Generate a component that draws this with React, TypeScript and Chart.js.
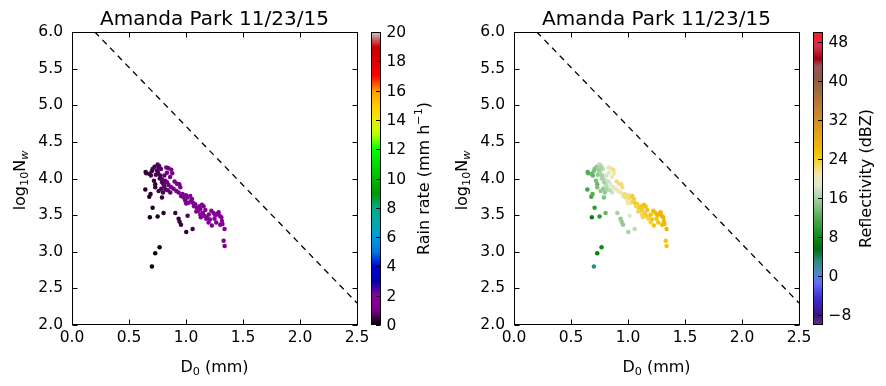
import React, { useEffect, useRef } from 'react';
import { Chart, registerables } from 'chart.js';

Chart.register(...registerables);

const TITLE = 'Amanda Park 11/23/15';

const D0 = [
  0.646, 0.651, 0.692, 0.707, 0.724, 0.751, 0.765, 0.78, 0.745, 0.736,
  0.719, 0.73, 0.774, 0.789, 0.803, 0.818, 0.827, 0.847, 0.871, 0.879,
  0.833, 0.81, 0.833, 0.847, 0.783, 0.798, 0.789, 0.862, 0.891, 0.915,
  0.941, 0.95, 0.935, 0.956, 0.979, 0.993, 1.014, 1.037, 1.052, 1.023,
  1.002, 1.043, 1.081, 1.096, 1.11, 1.119, 1.14, 1.154, 1.125, 1.148,
  1.16, 1.184, 1.198, 1.178, 1.222, 1.242, 1.257, 1.277, 1.295, 1.286,
  1.315, 1.3, 1.265, 1.227, 1.338, 1.33, 1.339, 1.125, 0.643, 0.678,
  0.689, 0.707, 0.683, 0.751, 0.803, 0.701, 0.73, 0.768, 0.906, 0.935,
  0.944, 0.956, 1.002, 1.058, 1.014, 0.76, 0.755, 0.77, 0.79, 0.81,
  0.82, 0.84, 0.87, 0.86, 0.7, 0.68, 0.97, 1.0, 1.06, 1.07,
  1.09, 1.13, 1.2, 1.25, 1.31, 1.32, 1.21, 1.17, 0.92, 0.9,
  0.73, 0.76,
];

const LOGNW = [
  4.09, 4.07, 4.04, 4.13, 4.16, 4.19, 4.17, 4.13, 4.11, 4.05,
  3.97, 3.92, 4.04, 3.99, 3.92, 3.97, 4.15, 4.14, 4.12, 4.07,
  4.08, 4.04, 3.95, 3.91, 3.86, 3.81, 3.74, 3.81, 3.86, 3.83,
  3.92, 3.88, 3.81, 3.76, 3.74, 3.7, 3.74, 3.76, 3.72, 3.67,
  3.66, 3.69, 3.65, 3.6, 3.56, 3.62, 3.64, 3.62, 3.51, 3.53,
  3.49, 3.47, 3.4, 3.45, 3.56, 3.53, 3.5, 3.52, 3.49, 3.54,
  3.42, 3.37, 3.4, 3.36, 3.31, 3.15, 3.08, 3.58, 3.85, 3.75,
  3.79, 3.6, 3.47, 3.48, 3.53, 2.8, 2.98, 3.06, 3.53, 3.45,
  3.41, 3.37, 3.27, 3.31, 3.49, 4.15, 4.08, 4.0, 3.95, 3.89,
  3.85, 3.84, 3.88, 4.02, 4.1, 4.06, 3.79, 3.77, 3.67, 3.62,
  3.55, 3.47, 3.51, 3.45, 3.47, 3.38, 3.44, 3.57, 3.93, 3.96,
  3.88, 3.83,
];

// rain rate (mm h-1)
const RAIN = [
  0.45, 0.45, 0.5, 0.55, 0.6, 0.7, 0.7, 0.75, 0.6, 0.55,
  0.5, 0.4, 0.7, 0.75, 0.8, 0.85, 1.0, 1.05, 1.1, 1.05,
  0.95, 0.85, 0.9, 0.95, 0.6, 0.6, 0.35, 0.85, 1.0, 1.05,
  1.2, 1.2, 1.1, 1.15, 1.2, 1.2, 1.35, 1.4, 1.4, 1.3,
  1.2, 1.35, 1.5, 1.5, 1.5, 1.6, 1.7, 1.7, 1.45, 1.55,
  1.5, 1.6, 1.5, 1.5, 1.9, 1.9, 1.9, 2.0, 2.0, 2.1,
  1.9, 1.8, 1.75, 1.6, 1.8, 1.5, 1.5, 1.55, 0.3, 0.3,
  0.35, 0.25, 0.15, 0.25, 0.35, 0.04, 0.1, 0.12, 0.5, 0.45,
  0.45, 0.45, 0.45, 0.55, 0.7, 0.65, 0.6, 0.65, 0.7, 0.75,
  0.7, 0.8, 0.95, 1.0, 0.5, 0.5, 1.25, 1.3, 1.45, 1.4,
  1.35, 1.4, 1.8, 1.8, 2.0, 1.9, 1.7, 1.75, 1.15, 1.1,
  0.45, 0.5,
];

// reflectivity (dBZ)
const REFL = [
  12, 12, 13, 14, 15, 17, 17, 17, 15, 15,
  14, 13, 16, 17, 17, 18, 20, 21, 22, 21,
  19, 18, 18, 19, 15, 15, 14, 18, 20, 21,
  22, 22, 21, 21, 22, 21, 23, 24, 24, 22,
  21, 23, 24, 24, 24, 25, 25, 25, 23, 24,
  24, 24, 23, 23, 26, 26, 26, 27, 27, 27,
  26, 26, 25, 25, 26, 25, 25, 24, 11, 11,
  12, 10, 7, 10, 13, 3, 7, 8, 16, 15,
  15, 15, 16, 17, 19, 16, 16, 16, 16, 17,
  16, 17, 19, 20, 14, 13, 22, 22, 24, 23,
  23, 23, 25, 25, 27, 26, 25, 25, 22, 22,
  14, 15,
];

const X_TICKS = [0, 0.5, 1.0, 1.5, 2.0, 2.5];
const Y_TICKS = [2.0, 2.5, 3.0, 3.5, 4.0, 4.5, 5.0, 5.5, 6.0];
const LINE_X = [0.2, 2.5];
const LINE_Y = [6.0, 2.3];
const RAIN_TICKS = [0, 2, 4, 6, 8, 10, 12, 14, 16, 18, 20];
const REFL_TICKS = [-8, 0, 8, 16, 24, 32, 40, 48];

const FONT = '"DejaVu Sans", "Liberation Sans", sans-serif';

// nipy_spectral colormap definition
const NIPY_R = [0, 0.4667, 0.5333, 0, 0, 0, 0, 0, 0, 0, 0, 0, 0, 0.7333, 0.9333, 1, 1, 1, 0.8667, 0.8, 0.8];
const NIPY_G = [0, 0, 0, 0, 0, 0.4667, 0.6, 0.6667, 0.6667, 0.6, 0.7333, 0.8667, 1, 1, 0.9333, 0.8, 0.6, 0, 0, 0, 0.8];
const NIPY_B = [0, 0.5333, 0.6, 0.6667, 0.8667, 0.8667, 0.8667, 0.6667, 0.5333, 0, 0, 0, 0, 0, 0, 0, 0, 0, 0, 0, 0.8];

function nipy(t: number): string {
  const tt = Math.max(0, Math.min(1, t)) * 20;
  const i = Math.min(19, Math.floor(tt));
  const f = tt - i;
  const c = (a: number[]) => Math.round(255 * (a[i] + (a[i + 1] - a[i]) * f));
  return `rgb(${c(NIPY_R)},${c(NIPY_G)},${c(NIPY_B)})`;
}

// reflectivity colormap stops
const REFL_STOPS: [number, string][] = [
  [-10, '#6c2c8c'],
  [-8, '#38147c'],
  [-4.5, '#3c2cd2'],
  [-1.5, '#6468f8'],
  [0.5, '#5088c8'],
  [3, '#2e8a88'],
  [5.5, '#006c10'],
  [8.5, '#12901a'],
  [12, '#52ac52'],
  [15.5, '#9cce9c'],
  [18.5, '#dae8d2'],
  [21, '#f2e6a8'],
  [23.5, '#f2d23c'],
  [25.5, '#f0c000'],
  [30, '#e09a20'],
  [35.5, '#b87838'],
  [40.5, '#8c5a40'],
  [43, '#a05058'],
  [44.5, '#a00010'],
  [47, '#d03050'],
  [50, '#ff1a1a'],
];

function hexToRgb(h: string): number[] {
  return [parseInt(h.slice(1, 3), 16), parseInt(h.slice(3, 5), 16), parseInt(h.slice(5, 7), 16)];
}

function reflColor(v: number): string {
  const s = REFL_STOPS;
  if (v <= s[0][0]) return s[0][1];
  if (v >= s[s.length - 1][0]) return s[s.length - 1][1];
  for (let k = 0; k < s.length - 1; k++) {
    if (v >= s[k][0] && v <= s[k + 1][0]) {
      const f = (v - s[k][0]) / (s[k + 1][0] - s[k][0]);
      const a = hexToRgb(s[k][1]);
      const b = hexToRgb(s[k + 1][1]);
      const m = a.map((x, j) => Math.round(x + (b[j] - x) * f));
      return `rgb(${m[0]},${m[1]},${m[2]})`;
    }
  }
  return '#000';
}

type Seg = { t: string; s?: 'sub' | 'sup'; i?: boolean };

function drawRich(ctx: CanvasRenderingContext2D, segs: Seg[], px: number, py: number, size: number, rotated: boolean) {
  ctx.save();
  ctx.translate(px, py);
  if (rotated) ctx.rotate(-Math.PI / 2);
  const fontFor = (sg: Seg) => `${sg.i ? 'italic ' : ''}${sg.s ? size * 0.7 : size}px ${FONT}`;
  const widths = segs.map((sg) => {
    ctx.font = fontFor(sg);
    return ctx.measureText(sg.t).width;
  });
  const total = widths.reduce((a, b) => a + b, 0);
  let x = -total / 2;
  ctx.textAlign = 'left';
  ctx.textBaseline = 'alphabetic';
  ctx.fillStyle = '#000';
  segs.forEach((sg, k) => {
    ctx.font = fontFor(sg);
    const dy = sg.s === 'sub' ? size * 0.2 : sg.s === 'sup' ? -size * 0.42 : 0;
    ctx.fillText(sg.t, x, dy);
    x += widths[k];
  });
  ctx.restore();
}

const decorPlugin = {
  id: 'decor',
  afterDraw(chart: any, _args: any, opts: any) {
    const ctx: CanvasRenderingContext2D = chart.ctx;
    const { left, right, top, bottom } = chart.chartArea;
    const xs = chart.scales.x;
    const ys = chart.scales.y;
    const cb = chart.scales.cb;
    ctx.save();
    // frame
    ctx.strokeStyle = '#000';
    ctx.lineWidth = 1;
    const L = Math.floor(left) + 0.5;
    const R = Math.floor(right) + 0.5;
    const T = Math.floor(top) + 0.5;
    const B = Math.floor(bottom) - 0.5;
    ctx.strokeRect(L, T, R - L, B - T);
    // inward ticks
    const tl = 5;
    ctx.beginPath();
    X_TICKS.forEach((v) => {
      const p = Math.round(xs.getPixelForValue(v)) + 0.5;
      ctx.moveTo(p, B);
      ctx.lineTo(p, B - tl);
      ctx.moveTo(p, T);
      ctx.lineTo(p, T + tl);
    });
    Y_TICKS.forEach((v) => {
      const p = Math.round(ys.getPixelForValue(v)) + 0.5;
      ctx.moveTo(L, p);
      ctx.lineTo(L + tl, p);
      ctx.moveTo(R, p);
      ctx.lineTo(R - tl, p);
    });
    ctx.stroke();

    // title
    ctx.fillStyle = '#000';
    ctx.font = `20px ${FONT}`;
    ctx.textAlign = 'center';
    ctx.textBaseline = 'alphabetic';
    ctx.fillText(TITLE, (left + right) / 2, 25);

    // axis labels
    drawRich(ctx, [{ t: 'D' }, { t: '0', s: 'sub' }, { t: ' (mm)' }], (left + right) / 2, 372, 16, false);
    drawRich(ctx, [{ t: 'log' }, { t: '10', s: 'sub' }, { t: 'N' }, { t: 'w', s: 'sub', i: true }], 25, (top + bottom) / 2 + 2, 16, true);

    // colorbar
    const x0 = 371;
    const x1 = 381;
    const cTop = Math.round(cb.getPixelForValue(cb.max));
    const cBot = Math.round(cb.getPixelForValue(cb.min));
    for (let py = cTop; py < cBot; py++) {
      const v = cb.getValueForPixel(py + 0.5);
      ctx.fillStyle = opts.colorFn(v);
      ctx.fillRect(x0, py, x1 - x0, 1);
    }
    ctx.strokeStyle = '#000';
    ctx.strokeRect(x0 + 0.5, cTop + 0.5, x1 - x0 - 1, cBot - cTop - 1);
    ctx.beginPath();
    (opts.ticks as number[]).forEach((v) => {
      const p = Math.round(cb.getPixelForValue(v)) + 0.5;
      ctx.moveTo(x1 - 0.5, p);
      ctx.lineTo(x1 - 5, p);
    });
    ctx.stroke();
    ctx.fillStyle = '#000';
    ctx.font = `15.5px ${FONT}`;
    ctx.textAlign = 'left';
    ctx.textBaseline = 'middle';
    (opts.ticks as number[]).forEach((v) => {
      const p = cb.getPixelForValue(v);
      const label = v < 0 ? '\u2212' + Math.abs(v) : String(v);
      ctx.fillText(label, x1 + 5.5, p + 1);
    });
    drawRich(ctx, opts.label as Seg[], 429, (cTop + cBot) / 2, 16, true);
    ctx.restore();
  },
};

function makeConfig(kind: 'rain' | 'refl'): any {
  const values = kind === 'rain' ? RAIN : REFL;
  const colorFn = kind === 'rain' ? (v: number) => nipy(v / 20) : (v: number) => reflColor(v);
  const cbMin = kind === 'rain' ? 0 : -10;
  const cbMax = kind === 'rain' ? 20 : 50;
  const label: Seg[] =
    kind === 'rain'
      ? [{ t: 'Rain rate (mm h' }, { t: '\u22121', s: 'sup' }, { t: ')' }]
      : [{ t: 'Reflectivity (dBZ)' }];
  const tickFont = { family: FONT, size: 15.5, lineHeight: 1.2 };
  return {
    type: 'scatter',
    data: {
      datasets: [
        {
          type: 'line',
          data: LINE_X.map((x, i) => ({ x, y: LINE_Y[i] })),
          borderColor: '#000',
          borderWidth: 1.3,
          borderDash: [6, 5],
          pointRadius: 0,
          fill: false,
          order: 2,
        },
        {
          data: D0.map((x, i) => ({ x, y: LOGNW[i] })),
          backgroundColor: values.map((v) => colorFn(v)),
          pointRadius: 2.25,
          pointHoverRadius: 2.25,
          borderWidth: 0,
          order: 1,
        },
      ],
    },
    options: {
      responsive: false,
      animation: false,
      events: [],
      layout: { padding: { left: 0, right: 85, top: 32, bottom: 0 } },
      plugins: {
        legend: { display: false },
        title: { display: false },
        tooltip: { enabled: false },
        decor: { colorFn, ticks: kind === 'rain' ? RAIN_TICKS : REFL_TICKS, label },
      },
      scales: {
        x: {
          type: 'linear',
          min: 0,
          max: 2.5,
          afterBuildTicks: (s: any) => {
            s.ticks = X_TICKS.map((v) => ({ value: v }));
          },
          afterFit: (s: any) => {
            s.height = 61;
          },
          grid: { display: false, drawTicks: false },
          border: { display: false },
          ticks: {
            color: '#000',
            font: tickFont,
            padding: 4,
            maxRotation: 0,
            autoSkip: false,
            callback: (v: any) => Number(v).toFixed(1),
          },
        },
        y: {
          type: 'linear',
          min: 2,
          max: 6,
          afterBuildTicks: (s: any) => {
            s.ticks = Y_TICKS.map((v) => ({ value: v }));
          },
          afterFit: (s: any) => {
            s.width = 72;
          },
          grid: { display: false, drawTicks: false },
          border: { display: false },
          ticks: {
            color: '#000',
            font: tickFont,
            padding: 9,
            autoSkip: false,
            callback: (v: any) => Number(v).toFixed(1),
          },
        },
        cb: {
          type: 'linear',
          display: false,
          position: 'right',
          min: cbMin,
          max: cbMax,
        },
      },
    },
    plugins: [decorPlugin],
  };
}

function Panel({ kind, left }: { kind: 'rain' | 'refl'; left: number }) {
  const ref = useRef<HTMLCanvasElement | null>(null);
  useEffect(() => {
    if (!ref.current) return;
    const chart = new Chart(ref.current, makeConfig(kind));
    return () => chart.destroy();
  }, [kind]);
  return (
    <canvas
      ref={ref}
      width={442}
      height={386}
      style={{ position: 'absolute', left, top: 0, width: 442, height: 386 }}
    />
  );
}

export default function App() {
  return (
    <div style={{ position: 'absolute', left: 0, top: 0, width: 886, height: 386, background: '#fff' }}>
      <Panel kind="rain" left={0} />
      <Panel kind="refl" left={442} />
    </div>
  );
}
